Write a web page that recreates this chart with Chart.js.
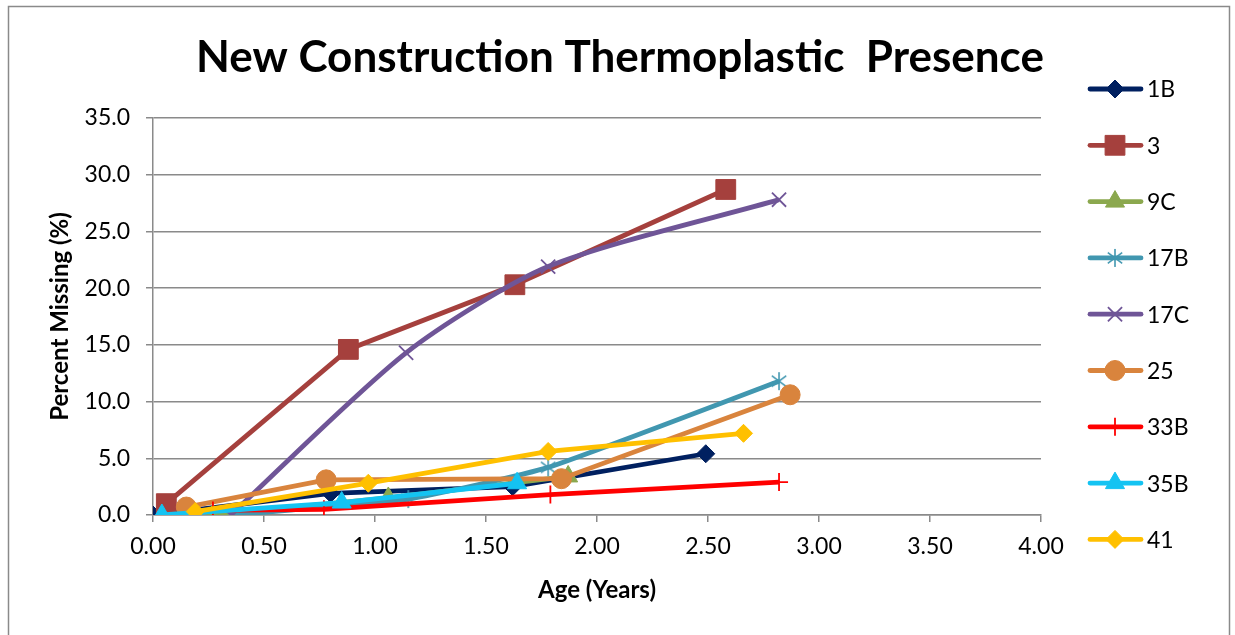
<!DOCTYPE html>
<html>
<head>
<meta charset="utf-8">
<script src="https://cdn.jsdelivr.net/npm/chart.js@4.4.1/dist/chart.umd.min.js"></script>
<style>
  html, body { margin: 0; padding: 0; background: #ffffff; }
  #wrap { width: 1235px; height: 635px; position: relative; }
</style>
</head>
<body>
<div id="wrap"><canvas id="chart" width="1235" height="635"></canvas></div>
<script>
// Site series: age (years) and percent of thermoplastic missing
const seriesNames = ['1B', '3', '9C', '17B', '17C', '25', '33B', '35B', '41'];

const age1B  = [0.00, 0.80, 1.62, 2.49];
const pct1B  = [0.0, 1.9, 2.5, 5.4];
const age3   = [0.06, 0.88, 1.63, 2.58];
const pct3   = [1.0, 14.6, 20.3, 28.7];
const age9C  = [0.27, 1.06, 1.87];
const pct9C  = [0.0, 1.5, 3.4];
const age17B = [0.35, 1.15, 1.78, 2.82];
const pct17B = [0.0, 1.4, 4.2, 11.8];
const age17C = [0.35, 1.14, 1.78, 2.82];
const pct17C = [0.0, 14.3, 21.9, 27.8];
const age25  = [0.15, 0.78, 1.84, 2.87];
const pct25  = [0.7, 3.1, 3.2, 10.6];
const age33B = [0.27, 0.77, 1.79, 2.82];
const pct33B = [0.4, 0.5, 1.8, 2.9];
const age35B = [0.04, 0.85, 1.64];
const pct35B = [0.0, 1.1, 2.8];
const age41  = [0.19, 0.97, 1.78, 2.66];
const pct41  = [0.3, 2.8, 5.6, 7.2];

const xTickValues = [0, 0.5, 1, 1.5, 2, 2.5, 3, 3.5, 4];
const yTickValues = [0, 5, 10, 15, 20, 25, 30, 35];

const FONT = 'Lato, "Open Sans", sans-serif';

// asterisk marker: vertical stroke plus two diagonals
function asteriskMarker(color, size) {
  const c = document.createElement('canvas');
  c.width = size; c.height = size;
  const g = c.getContext('2d');
  const h = size / 2, r = size / 2 - 1;
  g.strokeStyle = color; g.lineWidth = 1.6;
  g.beginPath();
  g.moveTo(h, h - r); g.lineTo(h, h + r);
  g.moveTo(h - r * 0.8, h - r * 0.6); g.lineTo(h + r * 0.8, h + r * 0.6);
  g.moveTo(h - r * 0.8, h + r * 0.6); g.lineTo(h + r * 0.8, h - r * 0.6);
  g.stroke();
  return c;
}

function pts(xs, ys) { return xs.map((x, i) => ({ x: x, y: ys[i] })); }

const styles = [
  { color: '#002060', point: 'rectRot',  r: 9,  border: 1 },
  { color: '#A5403D', point: 'rect',     r: 14, border: 1 },
  { color: '#8BA84E', point: 'triangle', r: 11, border: 1 },
  { color: '#4197B0', point: asteriskMarker('#4197B0', 20), r: 10, border: 1 },
  { color: '#6F5597', point: 'crossRot', r: 10, border: 1.8 },
  { color: '#D9843D', point: 'circle',   r: 10, border: 1 },
  { color: '#FF0000', point: 'cross',    r: 9,  border: 1.8 },
  { color: '#14C3F2', point: 'triangle', r: 11, border: 1 },
  { color: '#FFC000', point: 'rectRot',  r: 9,  border: 1 }
];
const tensions = [0, 0, 0, 0.15, 0.25, 0, 0, 0, 0];

const seriesData = [
  pts(age1B, pct1B), pts(age3, pct3), pts(age9C, pct9C),
  pts(age17B, pct17B), pts(age17C, pct17C), pts(age25, pct25),
  pts(age33B, pct33B), pts(age35B, pct35B), pts(age41, pct41)
];

const datasets = seriesNames.map((name, i) => ({
  label: name,
  data: seriesData[i],
  showLine: true,
  borderColor: styles[i].color,
  backgroundColor: styles[i].color,
  borderWidth: 4.8,
  tension: tensions[i],
  pointStyle: styles[i].point,
  pointRadius: styles[i].r,
  pointHoverRadius: styles[i].r,
  pointBorderWidth: styles[i].border,
  pointBorderColor: styles[i].color,
  pointBackgroundColor: styles[i].color,
  order: seriesNames.length - i
}));

// white page with thin grey frame
const framePlugin = {
  id: 'frame',
  beforeDraw(chart) {
    const ctx = chart.ctx;
    ctx.save();
    ctx.fillStyle = '#ffffff';
    ctx.fillRect(0, 0, chart.width, chart.height);
    ctx.strokeStyle = '#8a8a8a';
    ctx.lineWidth = 1.5;
    ctx.strokeRect(8.5, 6.5, 1221, 700);
    ctx.restore();
  }
};

// chart title and side legend (line + marker + label)
const titleLegendPlugin = {
  id: 'titleLegend',
  afterDraw(chart) {
    const ctx = chart.ctx;
    ctx.save();
    ctx.fillStyle = '#000000';
    ctx.font = 'bold 44px ' + FONT;
    ctx.textAlign = 'center';
    ctx.textBaseline = 'middle';
    ctx.fillText('New Construction Thermoplastic  Presence', 620, 58);

    chart.data.datasets.forEach((ds, i) => {
      const y = 89 + i * 56.3;
      ctx.strokeStyle = ds.borderColor;
      ctx.lineWidth = 4.8;
      ctx.lineCap = 'round';
      ctx.beginPath();
      ctx.moveTo(1090, y);
      ctx.lineTo(1141, y);
      ctx.stroke();
      ctx.lineCap = 'butt';
      ctx.fillStyle = ds.pointBackgroundColor;
      ctx.strokeStyle = ds.pointBorderColor;
      ctx.lineWidth = ds.pointBorderWidth;
      Chart.helpers.drawPoint(ctx, {
        pointStyle: ds.pointStyle,
        radius: ds.pointRadius,
        rotation: 0,
        borderWidth: ds.pointBorderWidth
      }, 1115, y);
      ctx.fillStyle = '#000000';
      ctx.font = '23px ' + FONT;
      ctx.textAlign = 'left';
      ctx.textBaseline = 'middle';
      ctx.fillText(ds.label, 1147, y + 1);
    });
    ctx.restore();
  }
};

new Chart(document.getElementById('chart'), {
  type: 'scatter',
  data: { datasets: datasets },
  plugins: [framePlugin, titleLegendPlugin],
  options: {
    responsive: false,
    animation: false,
    events: [],
    layout: { padding: { left: 0, right: 194, top: 118, bottom: 0 } },
    plugins: {
      legend: { display: false },
      title: { display: false },
      tooltip: { enabled: false }
    },
    scales: {
      x: {
        type: 'linear',
        min: 0, max: 4,
        afterBuildTicks(axis) { axis.ticks = xTickValues.map(v => ({ value: v })); },
        afterFit(axis) { axis.height = 120; },
        border: { color: '#8a8a8a', width: 1.5 },
        grid: { drawOnChartArea: false, drawTicks: true, tickLength: 7, color: '#8a8a8a', lineWidth: 1.5 },
        ticks: {
          color: '#000000',
          font: { family: FONT, size: 23 },
          padding: 11,
          maxRotation: 0,
          callback: v => Number(v).toFixed(2)
        },
        title: {
          display: true,
          text: 'Age (Years)',
          color: '#000000',
          font: { family: FONT, size: 24, weight: 'bold' },
          padding: { top: 0, bottom: 30 }
        }
      },
      y: {
        type: 'linear',
        min: 0, max: 35,
        afterBuildTicks(axis) { axis.ticks = yTickValues.map(v => ({ value: v })); },
        afterFit(axis) { axis.width = 153; },
        border: { color: '#8a8a8a', width: 1.5 },
        grid: { drawTicks: true, tickLength: 7, color: '#8a8a8a', lineWidth: 1.5 },
        ticks: {
          color: '#000000',
          font: { family: FONT, size: 23 },
          padding: 16,
          callback: v => Number(v).toFixed(1)
        },
        title: {
          display: true,
          text: 'Percent Missing (%)',
          color: '#000000',
          font: { family: FONT, size: 24, weight: 'bold' },
          padding: { top: 46, bottom: 0 }
        }
      }
    }
  }
});
</script>
</body>
</html>
